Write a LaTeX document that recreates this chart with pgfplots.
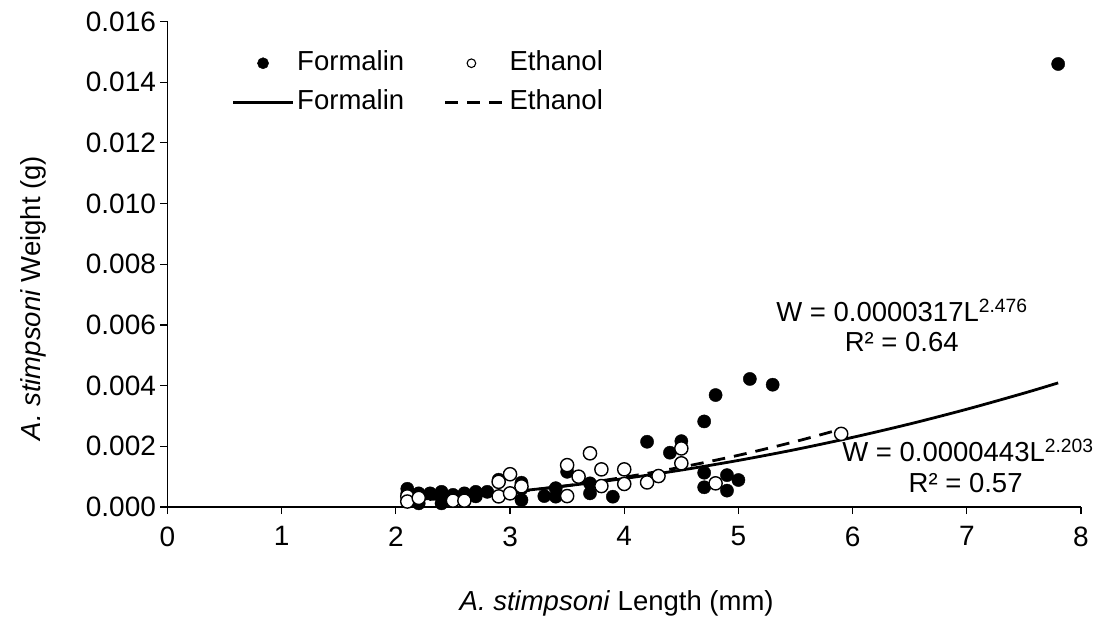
\documentclass[border=0pt]{standalone}
\usepackage{pgfplots}
\pgfplotsset{compat=1.18}
\usepackage{fontspec}
\setmainfont{Liberation Sans}

\pgfplotsset{
  filledleg/.style={legend image code/.code={\draw[##1,mark size=5.6pt,mark repeat=2,mark phase=2] plot coordinates {(0pt,0pt)(30pt,0pt)(60pt,0pt)};}},
  openleg/.style={legend image code/.code={\draw[##1,mark size=4.3pt,line width=1.1pt,mark repeat=2,mark phase=2] plot coordinates {(-4pt,0pt)(26pt,0pt)(56pt,0pt)};}},
  lineleg/.style={legend image code/.code={\draw[##1] (0pt,0pt) -- (60pt,0pt);}},
}

\pgfplotstableread{
x y
2.1 0.00060
2.1 0.00045
2.2 0.00045
2.2 0.00012
2.2 0.00030
2.3 0.00045
2.4 0.00050
2.4 0.00035
2.4 0.00012
2.5 0.00040
2.6 0.00045
2.7 0.00050
2.7 0.00035
2.8 0.00050
2.9 0.00090
3.1 0.00080
3.1 0.00060
3.1 0.00023
3.3 0.00036
3.4 0.00062
3.4 0.00034
3.5 0.00116
3.7 0.00078
3.7 0.00045
3.9 0.00034
4.2 0.00215
4.4 0.00179
4.5 0.00217
4.7 0.00282
4.7 0.00113
4.7 0.00065
4.8 0.00369
4.9 0.00105
4.9 0.00054
5.0 0.00089
5.1 0.00422
5.3 0.00403
7.8 0.0146
}\formalin

\pgfplotstableread{
x y
2.1 0.00035
2.1 0.00018
2.2 0.00030
2.5 0.00021
2.6 0.00021
2.9 0.00083
2.9 0.00035
3.0 0.00108
3.0 0.00045
3.1 0.00068
3.5 0.00138
3.5 0.00036
3.6 0.00100
3.7 0.00177
3.8 0.00124
3.8 0.00069
4.0 0.00124
4.0 0.00076
4.2 0.00081
4.3 0.00102
4.5 0.00193
4.5 0.00144
4.8 0.00078
5.9 0.00241
}\ethanol

\pgfplotstableread{
x y
2.1 0.0002271
2.5 0.0003335
3.0 0.0004983
3.5 0.0006999
4.0 0.0009392
4.5 0.0012174
5.0 0.0015354
5.5 0.0018942
6.0 0.0022947
6.5 0.0027369
7.0 0.0032224
7.5 0.0037509
7.8 0.0040898
}\formalinfit

\pgfplotstableread{
x y
2.1 0.000199
2.5 0.0003065
3.0 0.0004813
3.5 0.000705
4.0 0.000981
4.5 0.0013136
5.0 0.0017048
5.5 0.0021585
5.9 0.002569
}\ethanolfit

\begin{document}
\begin{tikzpicture}
\useasboundingbox (-167.5pt,-120pt) rectangle (929.5pt,507pt);
\begin{axis}[
  scale only axis,
  width=913.5pt, height=485.5pt,
  xmin=0, xmax=8, ymin=0, ymax=0.016,
  axis lines*=left,
  axis line style={line width=1.2pt,-},
  xtick={0,1,...,8},
  ytick={0,0.002,...,0.016},
  tick align=outside,
  major tick length=7pt,
  tick style={line width=1.2pt,black},
  scaled y ticks=false,
  yticklabel style={/pgf/number format/fixed,/pgf/number format/fixed zerofill,/pgf/number format/precision=3},
  /pgf/number format/assume math mode=true,
  ticklabel style={font=\fontsize{28}{32}\selectfont},
  xticklabel style={yshift=-9pt},
  yticklabel style={xshift=-1pt},
  xlabel={\textit{A. stimpsoni} Length (mm)},
  ylabel={\textit{A. stimpsoni} Weight (g)},
  label style={font=\fontsize{27.5}{32}\selectfont},
  xlabel style={at={(axis description cs:0.4917,-0.1977)},anchor=center},
  ylabel style={at={(axis description cs:-0.1472,0.4305)},anchor=center},
  clip=false,
  legend columns=2,
  legend cell align=left,
  legend style={at={(axis description cs:0.07,0.955)},anchor=north west,
    draw=none, fill=none, inner sep=0pt,
    font=\fontsize{27.5}{32}\selectfont,
    nodes={inner xsep=2.8pt, inner ysep=6.7pt, text height=20pt, text depth=6pt},
    /tikz/every even column/.append style={column sep=37pt}},
]
\addplot[only marks, mark=*, mark size=6.6pt, black, fill=black, filledleg]
  table {\formalin};
\addlegendentry{Formalin}
\addplot[only marks, mark=*, mark size=6.6pt, black, line width=1.4pt, mark options={fill=white}, openleg]
  table {\ethanol};
\addlegendentry{Ethanol}
\addplot[no marks, black, line width=2.8pt, smooth, lineleg]
  table {\formalinfit};
\addlegendentry{Formalin}
\addplot[no marks, black, line width=2.8pt, smooth, dash pattern=on 13pt off 9pt, lineleg]
  table {\ethanolfit};
\addlegendentry{Ethanol}

\node[font=\fontsize{27.5}{32}\selectfont] at (axis cs:6.432,0.00649) {W = 0.0000317L\textsuperscript{2.476}};
\node[font=\fontsize{27.5}{32}\selectfont] at (axis cs:6.43,0.00544) {R² = 0.64};
\node[font=\fontsize{27.5}{32}\selectfont] at (axis cs:7.01,0.00188) {W = 0.0000443L\textsuperscript{2.203}};
\node[font=\fontsize{27.5}{32}\selectfont] at (axis cs:6.99,0.00079) {R² = 0.57};
\end{axis}
\end{tikzpicture}
\end{document}
